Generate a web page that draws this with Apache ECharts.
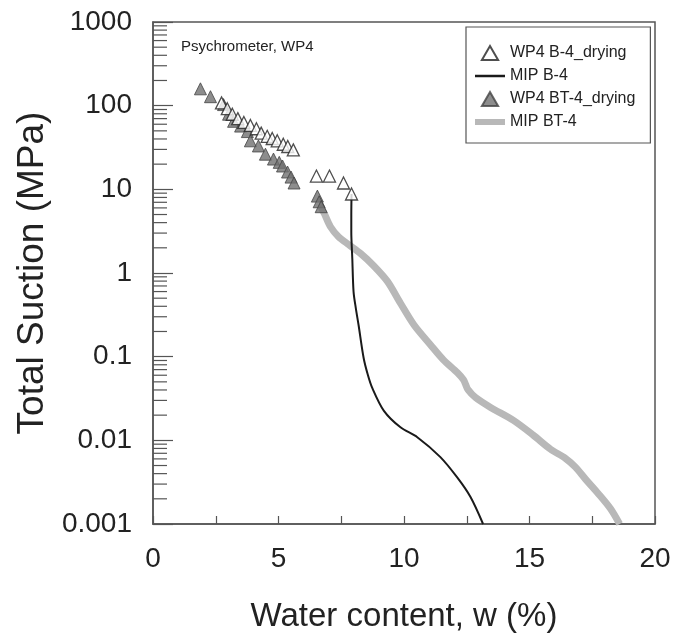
<!DOCTYPE html>
<html>
<head>
<meta charset="utf-8">
<script src="https://cdn.jsdelivr.net/npm/echarts@6/dist/echarts.min.js"></script>
<style>
html,body{margin:0;padding:0;background:#fff;}
#chart{width:679px;height:638px;}
</style>
</head>
<body>
<div id="chart"></div>
<script>
// ---- data ----
var wp4B4_w = [2.73, 2.96, 3.16, 3.38, 3.62, 3.88, 4.12, 4.31, 4.55, 4.75, 4.95, 5.19, 5.37, 5.59, 6.51, 7.03, 7.59, 7.91];
var wp4B4_s = [108, 92, 79, 70, 63, 58, 53, 47, 43, 40.5, 38, 34.6, 32.5, 29.6, 14.4, 14.4, 11.9, 8.8];

var wp4BT4_w = [1.89, 2.29, 2.81, 3.01, 3.21, 3.49, 3.76, 3.88, 4.20, 4.48, 4.80, 5.03, 5.16, 5.36, 5.50, 5.62, 6.55, 6.62, 6.70];
var wp4BT4_s = [159, 128, 103, 79, 65, 57, 49, 38, 33, 26.3, 23, 21, 19, 16.1, 14, 11.9, 8.3, 7.1, 6.2];

var mipB4_w = [7.91, 7.90, 7.90, 7.94, 7.99, 8.08, 8.19, 8.39, 8.55, 8.73, 9.20, 9.86, 10.53, 11.45, 12.12, 12.65, 13.15];
var mipB4_s = [8.8, 5.0, 3.1, 1.49, 0.60, 0.38, 0.239, 0.097, 0.062, 0.0426, 0.0225, 0.0143, 0.0109, 0.0063, 0.0036, 0.0021, 0.001];

var mipBT4_w = [6.67, 6.83, 7.07, 7.39, 7.79, 8.27, 8.78, 9.34, 9.86, 10.40, 11.06, 11.57, 12.13, 12.37, 12.45, 12.55, 12.85, 13.45, 14.36, 15.16, 15.84, 16.43, 16.83, 17.23, 17.75, 18.23, 18.59];
var mipBT4_s = [6.35, 5.1, 3.57, 2.72, 2.19, 1.71, 1.23, 0.794, 0.435, 0.239, 0.138, 0.0916, 0.0643, 0.053, 0.047, 0.0403, 0.0324, 0.0247, 0.0173, 0.01146, 0.00782, 0.0061, 0.00478, 0.00344, 0.00229, 0.00152, 0.001];

var seriesNames = ['WP4 B-4_drying', 'MIP B-4', 'WP4 BT-4_drying', 'MIP BT-4'];
var xTickLabels = ['0', '5', '10', '15', '20'];
var yTickLabels = ['0.001', '0.01', '0.1', '1', '10', '100', '1000'];
var minorMultipliers = [2, 3, 4, 5, 6, 7, 8, 9];
var decades = [0.001, 0.01, 0.1, 1, 10, 100];

function zip(a, b) { return a.map(function (v, i) { return [v, b[i]]; }); }

var minorTickData = [];
decades.forEach(function (d) {
  minorMultipliers.forEach(function (m) { minorTickData.push([0, +(d * m).toPrecision(3)]); });
});

var axisColor = '#555';
var font = 'Liberation Sans, Arial, Helvetica, sans-serif';
var triIcon = 'path://M0,-10 L11,9 L-11,9 Z';

var chart = echarts.init(document.getElementById('chart'));
chart.setOption({
  animation: false,
  backgroundColor: '#fff',
  textStyle: { fontFamily: font },
  title: {
    text: 'Psychrometer, WP4',
    left: 181, top: 39, padding: 0,
    textStyle: { fontSize: 15, fontWeight: 'normal', color: '#222', fontFamily: font }
  },
  grid: {
    left: 153, right: 24, top: 22, bottom: 111,
    show: true, borderColor: axisColor, borderWidth: 1.5, backgroundColor: 'transparent'
  },
  legend: {
    data: [
      { name: seriesNames[0], icon: triIcon },
      { name: seriesNames[1], itemStyle: { opacity: 0 }, lineStyle: { width: 2.5, color: '#1a1a1a' } },
      { name: seriesNames[2], icon: triIcon },
      { name: seriesNames[3], itemStyle: { opacity: 0 }, lineStyle: { width: 6, color: '#b8b8b8' } }
    ],
    symbolKeepAspect: true,
    orient: 'vertical',
    left: 466, top: 27,
    padding: [18, 15, 13, 6],
    itemGap: 7,
    itemWidth: 30, itemHeight: 14,
    borderColor: axisColor, borderWidth: 1.2,
    backgroundColor: '#fff',
    textStyle: { fontSize: 16, color: '#222', fontFamily: font }
  },
  xAxis: {
    type: 'value', min: 0, max: 20, interval: 2.5,
    name: 'Water content, w (%)', nameLocation: 'middle', nameGap: 76,
    nameTextStyle: { fontSize: 33, color: '#222', fontFamily: font },
    axisLine: { lineStyle: { color: axisColor, width: 1.5 } },
    axisTick: { inside: true, length: 8, lineStyle: { color: axisColor, width: 1.2 } },
    axisLabel: {
      fontSize: 28, color: '#222', margin: 21, fontFamily: font,
      formatter: function (v) { var s = String(v); return xTickLabels.indexOf(s) >= 0 ? s : ''; }
    },
    splitLine: { show: false }
  },
  yAxis: {
    type: 'log', logBase: 10, min: 0.001, max: 1000,
    name: 'Total Suction (MPa)', nameLocation: 'middle', nameGap: 101,
    nameTextStyle: { fontSize: 37, color: '#222', fontFamily: font },
    axisLine: { lineStyle: { color: axisColor, width: 1.5 } },
    axisTick: { inside: true, length: 20, lineStyle: { color: axisColor, width: 1.2 } },
    axisLabel: {
      fontSize: 28, color: '#222', margin: 21, fontFamily: font,
      formatter: function (v) {
        var s = String(Number(Number(v).toPrecision(3)));
        return yTickLabels.indexOf(s) >= 0 ? s : '';
      }
    },
    splitLine: { show: false }
  },
  series: [
    {
      type: 'custom',
      silent: true,
      data: minorTickData,
      encode: { x: 0, y: 1 },
      clip: false,
      z: 1,
      renderItem: function (params, api) {
        var p = api.coord([0, api.value(1)]);
        return {
          type: 'line',
          shape: { x1: p[0], y1: p[1], x2: p[0] + 14, y2: p[1] },
          style: { stroke: axisColor, lineWidth: 1.2 }
        };
      }
    },
    {
      name: 'MIP BT-4', type: 'line', data: zip(mipBT4_w, mipBT4_s),
      showSymbol: false, symbol: 'none', smooth: 0.3, z: 2,
      lineStyle: { color: '#b8b8b8', width: 7 }, itemStyle: { color: '#b8b8b8' }
    },
    {
      name: 'MIP B-4', type: 'line', data: zip(mipB4_w, mipB4_s),
      showSymbol: false, symbol: 'none', smooth: 0.3, z: 3,
      lineStyle: { color: '#1a1a1a', width: 2 }, itemStyle: { color: '#1a1a1a' }
    },
    {
      name: 'WP4 BT-4_drying', type: 'scatter', data: zip(wp4BT4_w, wp4BT4_s),
      symbol: 'triangle', symbolSize: 12, z: 4,
      itemStyle: { color: '#707070', borderColor: '#444', borderWidth: 1 }
    },
    {
      name: 'WP4 B-4_drying', type: 'scatter', data: zip(wp4B4_w, wp4B4_s),
      symbol: 'triangle', symbolSize: 12, z: 5,
      itemStyle: { color: '#fff', borderColor: '#222', borderWidth: 1.3 }
    }
  ]
});
</script>
</body>
</html>
